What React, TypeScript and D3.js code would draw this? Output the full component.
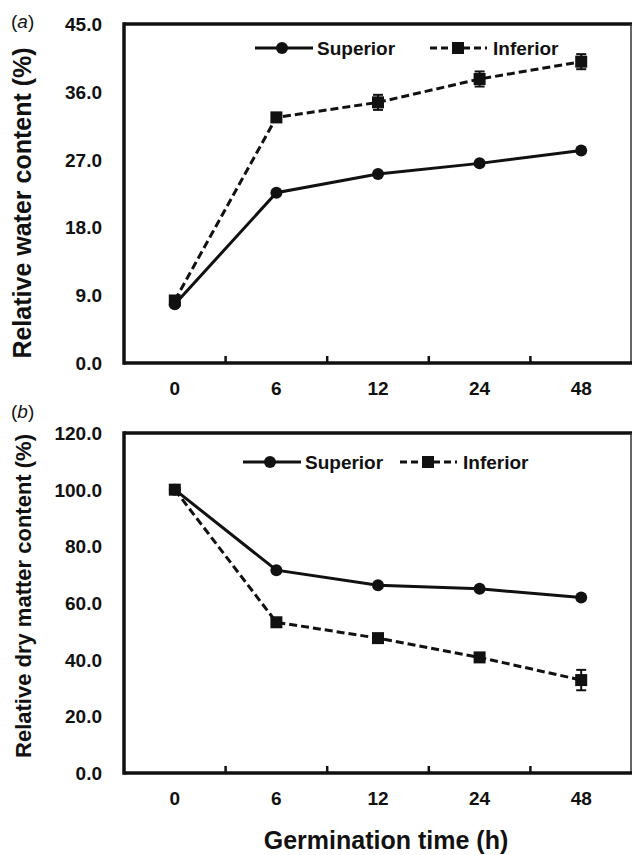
import * as d3 from 'd3';
import React, { useEffect, useRef } from 'react';

// categories and values
const times = ['0', '6', '12', '24', '48'];

const waterSuperior = [7.8, 22.6, 25.1, 26.5, 28.2];
const waterInferior = [8.3, 32.6, 34.6, 37.7, 40.0];
const waterInferiorErr = [0.4, 0.6, 1.0, 1.0, 1.0];
const waterTicks = [0, 9, 18, 27, 36, 45];

const drySuperior = [100, 71.6, 66.3, 65.0, 61.9];
const dryInferior = [100, 53.2, 47.6, 40.8, 32.8];
const dryInferiorErr = [0.5, 1.0, 1.0, 1.2, 3.6];
const dryTicks = [0, 20, 40, 60, 80, 100, 120];

const FONT = 'Liberation Sans, Arial, sans-serif';
const INK = '#111';

const App = () => {
    const svgRef = useRef<SVGSVGElement>(null);

    useEffect(() => {
        const width = 632;
        const height = 855;
        const svg = d3.select(svgRef.current);
        svg.selectAll('*').remove();
        svg.attr('width', width).attr('height', height);

        svg.append('rect').attr('width', width).attr('height', height).attr('fill', '#fff');

        const drawPanel = (opts) => {
            const { top, bottom, ticks, superior, inferior, infErr, yLabel, yLabelSize, yLabelMid, tag, tagY, legendY, legendX } = opts;
            const left = 124;
            const right = 632;

            const x = d3.scaleBand().domain(times).range([left, right]);
            const y = d3.scaleLinear().domain([0, ticks[ticks.length - 1]]).range([bottom, top]);
            const cx = (d) => x(d) + x.bandwidth() / 2;

            const g = svg.append('g');

            // frame
            g.append('line').attr('x1', left).attr('x2', right).attr('y1', top).attr('y2', top)
                .attr('stroke', INK).attr('stroke-width', 3.5);
            g.append('line').attr('x1', right - 1).attr('x2', right - 1).attr('y1', top).attr('y2', bottom)
                .attr('stroke', '#333').attr('stroke-width', 1.5);
            g.append('line').attr('x1', left).attr('x2', left).attr('y1', top - 1.75).attr('y2', bottom + 1.75)
                .attr('stroke', INK).attr('stroke-width', 3.5);
            g.append('line').attr('x1', left).attr('x2', right).attr('y1', bottom).attr('y2', bottom)
                .attr('stroke', INK).attr('stroke-width', 3.5);

            // x ticks between categories, pointing up
            times.slice(1).forEach(t => {
                g.append('line').attr('x1', x(t)).attr('x2', x(t)).attr('y1', bottom).attr('y2', bottom - 7)
                    .attr('stroke', INK).attr('stroke-width', 2.5);
            });

            // x tick labels
            g.selectAll('.xl').data(times).enter().append('text')
                .attr('x', d => cx(d)).attr('y', bottom + 32)
                .attr('text-anchor', 'middle')
                .style('font-family', FONT).style('font-weight', 'bold').style('font-size', '19px')
                .attr('fill', INK)
                .text(d => d);

            // y tick labels
            g.selectAll('.yl').data(ticks).enter().append('text')
                .attr('x', 102).attr('y', d => y(d) + 7)
                .attr('text-anchor', 'end')
                .style('font-family', FONT).style('font-weight', 'bold').style('font-size', '19px')
                .attr('fill', INK)
                .text(d => d.toFixed(1));

            // y axis label
            g.append('text')
                .attr('transform', `translate(31,${yLabelMid}) rotate(-90)`)
                .attr('text-anchor', 'middle')
                .style('font-family', FONT).style('font-weight', 'bold').style('font-size', `${yLabelSize}px`)
                .attr('fill', INK)
                .text(yLabel);

            // panel tag
            const tagText = g.append('text').attr('x', 11).attr('y', tagY)
                .style('font-family', FONT).style('font-size', '19px').attr('fill', INK);
            tagText.append('tspan').text('(');
            tagText.append('tspan').style('font-style', 'italic').text(tag);
            tagText.append('tspan').text(')');

            const line = d3.line<number>().x((d, i) => cx(times[i])).y(d => y(d));

            // lines
            g.append('path').datum(superior).attr('d', line)
                .attr('fill', 'none').attr('stroke', INK).attr('stroke-width', 3);
            g.append('path').datum(inferior).attr('d', line)
                .attr('fill', 'none').attr('stroke', INK).attr('stroke-width', 3)
                .attr('stroke-dasharray', '8,4');

            // error bars
            inferior.forEach((v, i) => {
                const px = cx(times[i]);
                const e = infErr[i];
                g.append('line').attr('x1', px).attr('x2', px).attr('y1', y(v - e)).attr('y2', y(v + e))
                    .attr('stroke', INK).attr('stroke-width', 2);
                [v - e, v + e].forEach(w => {
                    g.append('line').attr('x1', px - 5).attr('x2', px + 5).attr('y1', y(w)).attr('y2', y(w))
                        .attr('stroke', INK).attr('stroke-width', 2);
                });
            });

            // markers
            g.selectAll('.sq').data(inferior).enter().append('rect')
                .attr('x', (d, i) => cx(times[i]) - 6).attr('y', d => y(d) - 6)
                .attr('width', 12).attr('height', 12).attr('fill', INK);
            g.selectAll('.ci').data(superior).enter().append('circle')
                .attr('cx', (d, i) => cx(times[i])).attr('cy', d => y(d))
                .attr('r', 6).attr('fill', INK);

            // legend
            const [l1, l2] = legendX;
            g.append('line').attr('x1', l1).attr('x2', l1 + 58).attr('y1', legendY).attr('y2', legendY)
                .attr('stroke', INK).attr('stroke-width', 3);
            g.append('circle').attr('cx', l1 + 27).attr('cy', legendY).attr('r', 6).attr('fill', INK);
            g.append('text').attr('x', l1 + 62).attr('y', legendY + 7)
                .style('font-family', FONT).style('font-weight', 'bold').style('font-size', '19px')
                .attr('fill', INK).text('Superior');

            g.append('line').attr('x1', l2).attr('x2', l2 + 57).attr('y1', legendY).attr('y2', legendY)
                .attr('stroke', INK).attr('stroke-width', 3).attr('stroke-dasharray', '7,4');
            g.append('rect').attr('x', l2 + 22).attr('y', legendY - 6).attr('width', 12).attr('height', 12)
                .attr('fill', INK);
            g.append('text').attr('x', l2 + 63).attr('y', legendY + 7)
                .style('font-family', FONT).style('font-weight', 'bold').style('font-size', '19px')
                .attr('fill', INK).text('Inferior');
        };

        drawPanel({
            top: 24, bottom: 363, ticks: waterTicks,
            superior: waterSuperior, inferior: waterInferior, infErr: waterInferiorErr,
            yLabel: 'Relative water content (%)', yLabelSize: 25, yLabelMid: 203,
            tag: 'a', tagY: 28,
            legendY: 48, legendX: [255, 430]
        });

        drawPanel({
            top: 433, bottom: 773, ticks: dryTicks,
            superior: drySuperior, inferior: dryInferior, infErr: dryInferiorErr,
            yLabel: 'Relative dry matter content (%)', yLabelSize: 22, yLabelMid: 596,
            tag: 'b', tagY: 418,
            legendY: 462, legendX: [243, 400]
        });

        // shared x-axis title
        svg.append('text')
            .attr('x', 386).attr('y', 849)
            .attr('text-anchor', 'middle')
            .style('font-family', FONT).style('font-weight', 'bold').style('font-size', '25px')
            .attr('fill', INK)
            .text('Germination time (h)');
    }, []);

    return <svg ref={svgRef} style={{ position: 'absolute', left: 0, top: 0, display: 'block' }}></svg>;
};

export default App;
